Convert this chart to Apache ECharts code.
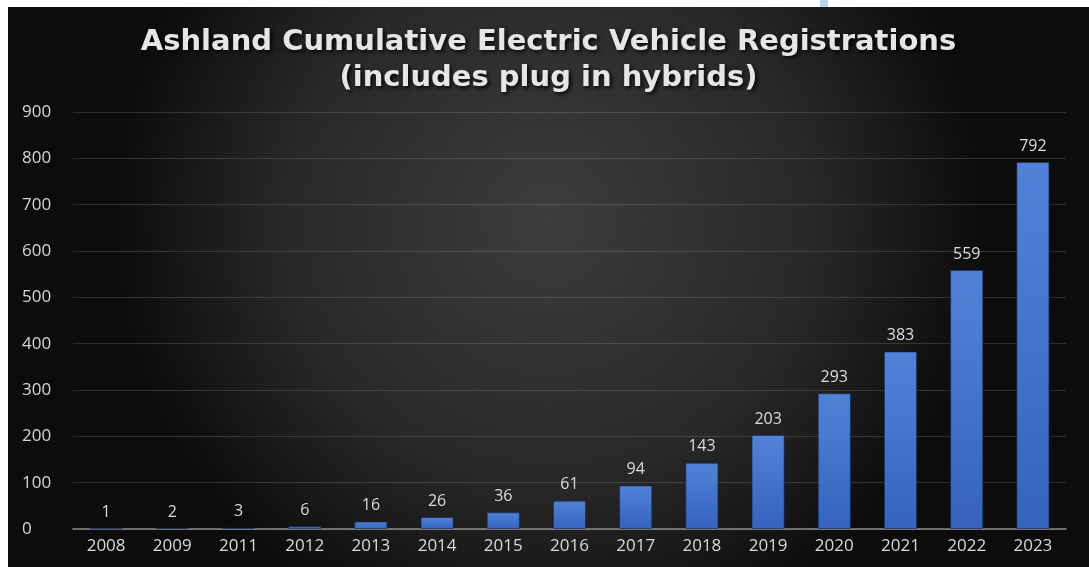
<!DOCTYPE html>
<html>
<head>
<meta charset="utf-8">
<script src="https://cdn.jsdelivr.net/npm/echarts@6/dist/echarts.min.js"></script>
<style>
  html, body { margin: 0; padding: 0; background: #ffffff; width: 1089px; height: 567px; overflow: hidden; }
  #chart { position: absolute; left: 8px; top: 7px; width: 1081px; height: 560px; }
  #mark { position: absolute; left: 820px; top: 0; width: 8px; height: 7px; background: #b5d6f2; }
</style>
</head>
<body>
<div id="mark"></div>
<div id="chart"></div>
<script>
// Registration years and cumulative electric vehicle counts
const years = ['2008', '2009', '2011', '2012', '2013', '2014', '2015', '2016', '2017', '2018', '2019', '2020', '2021', '2022', '2023'];
const registrations = [1, 2, 3, 6, 16, 26, 36, 61, 94, 143, 203, 293, 383, 559, 792];
const titleLines = ['Ashland Cumulative Electric Vehicle Registrations', '(includes plug in hybrids)'];

const chart = echarts.init(document.getElementById('chart'));

const labelFont = '"Open Sans", "DejaVu Sans", sans-serif';

chart.setOption({
  backgroundColor: {
    type: 'radial', x: 0.5, y: 0.38, r: 0.78,
    colorStops: [
      { offset: 0, color: '#3d3d3d' },
      { offset: 0.6, color: '#282828' },
      { offset: 1, color: '#0c0c0c' }
    ]
  },
  title: {
    text: titleLines.join('\n'),
    left: 'center',
    top: 12,
    textStyle: {
      color: '#e6e6e6',
      fontFamily: '"DejaVu Sans", Verdana, sans-serif',
      fontWeight: 'bold',
      fontSize: 29,
      lineHeight: 36,
      textShadowColor: 'rgba(0,0,0,0.9)',
      textShadowBlur: 4,
      textShadowOffsetX: 2,
      textShadowOffsetY: 2
    }
  },
  grid: { left: 65, right: 23, top: 105, bottom: 38 },
  xAxis: {
    type: 'category',
    data: years,
    axisLine: { show: true, lineStyle: { color: '#8c8c8c', width: 1.5 } },
    axisTick: { show: false },
    axisLabel: { color: '#dadada', fontFamily: labelFont, fontSize: 17, margin: 9 }
  },
  yAxis: {
    type: 'value',
    min: 0, max: 900, interval: 100,
    axisLine: { show: false },
    axisTick: { show: false },
    axisLabel: { color: '#d6d6d6', fontFamily: labelFont, fontSize: 17, margin: 51, align: 'left' },
    splitLine: { lineStyle: { color: 'rgba(255,255,255,0.14)', width: 1 } }
  },
  series: [{
    type: 'bar',
    data: registrations,
    barWidth: '50%',
    itemStyle: {
      color: {
        type: 'linear', x: 0, y: 0, x2: 0, y2: 1,
        colorStops: [
          { offset: 0, color: '#5282d8' },
          { offset: 1, color: '#3563bd' }
        ]
      },
      borderColor: 'rgba(20,40,90,0.6)',
      borderWidth: 1
    },
    label: {
      show: true,
      position: 'top',
      distance: 8,
      color: '#dcdcdc',
      fontFamily: labelFont,
      fontSize: 16
    }
  }]
});
</script>
</body>
</html>
